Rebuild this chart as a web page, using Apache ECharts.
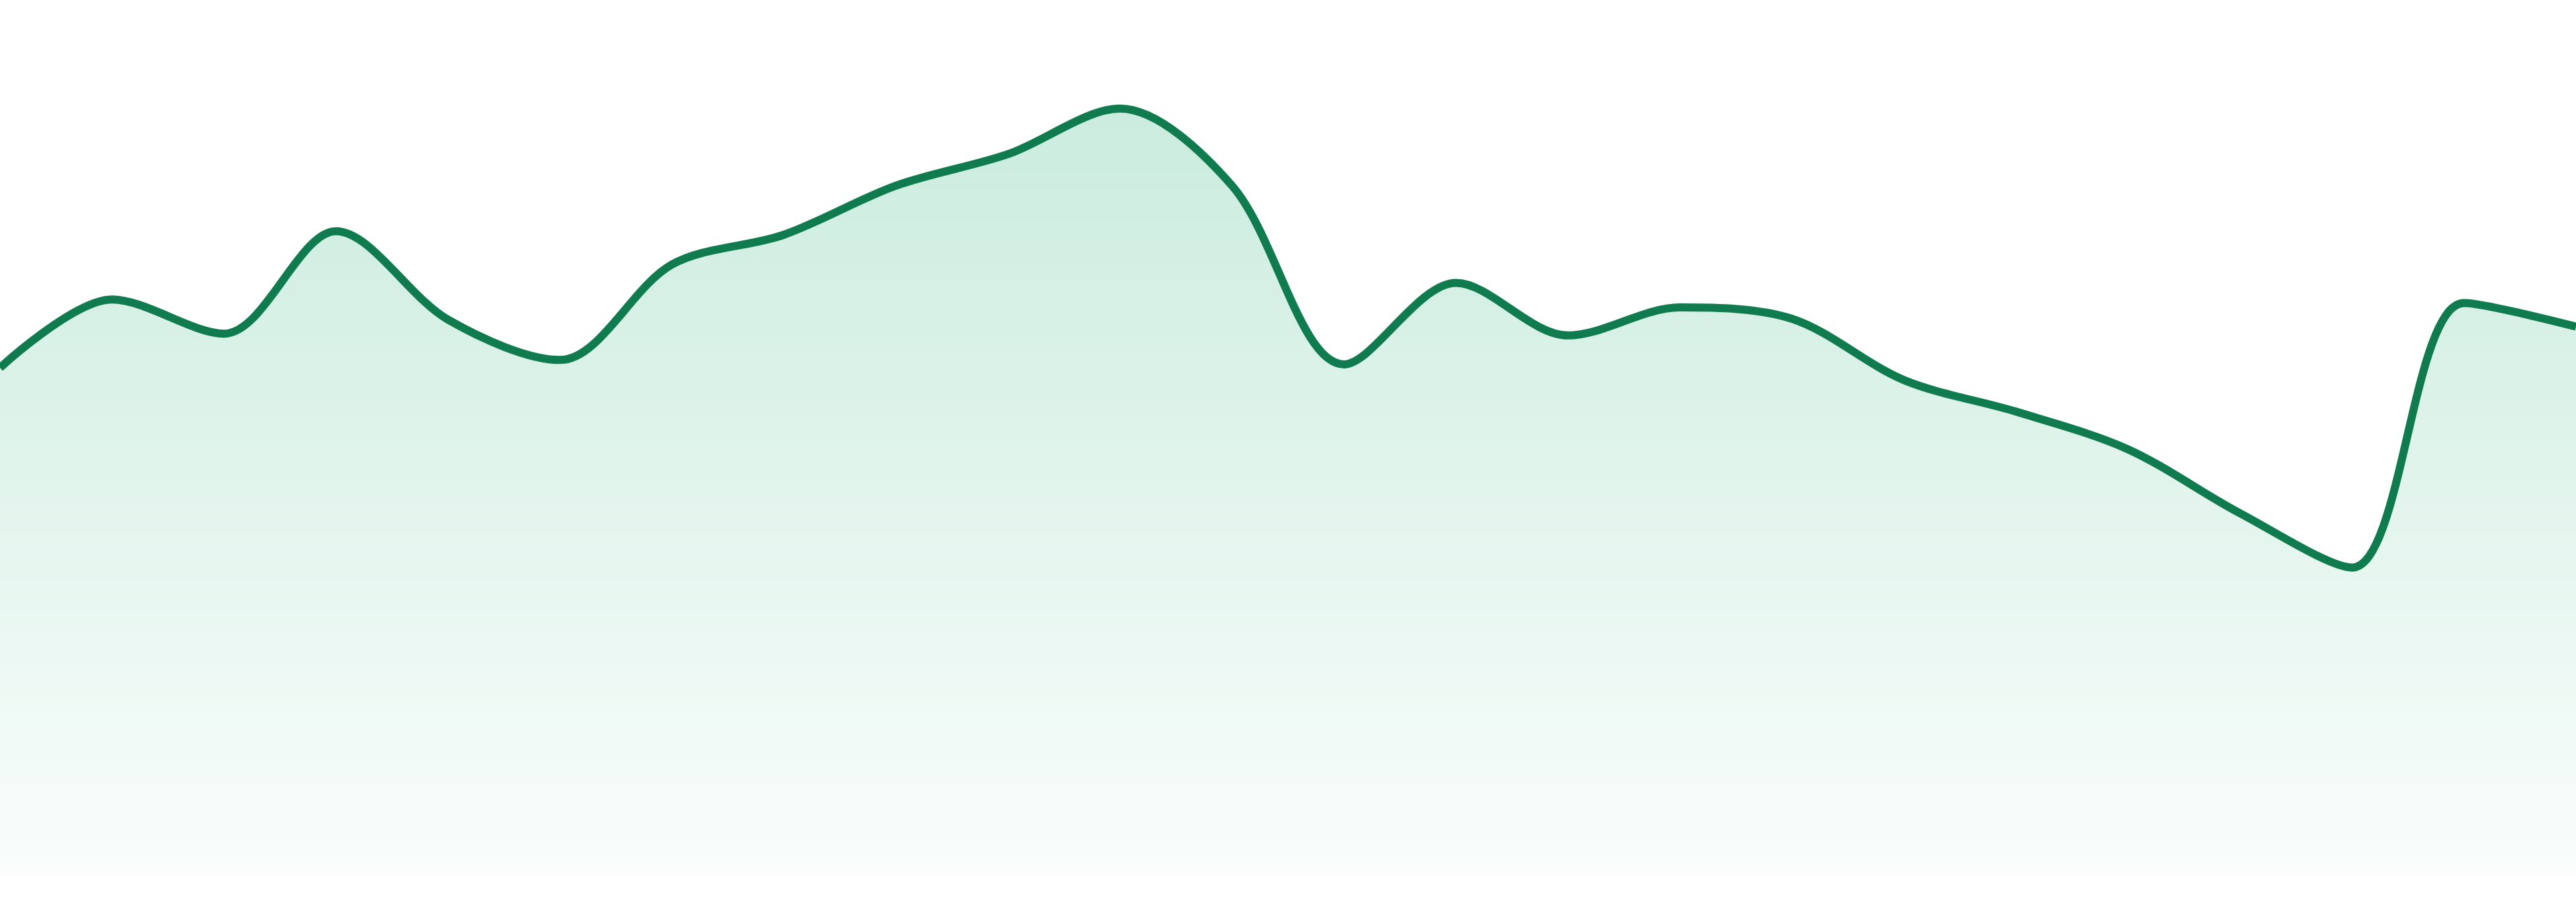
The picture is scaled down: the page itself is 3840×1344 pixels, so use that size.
<!DOCTYPE html>
<html>
<head>
<meta charset="utf-8">
<style>
  html, body { margin: 0; padding: 0; background: #ffffff; }
  #chart { width: 3840px; height: 1344px; }
</style>
<script src="https://cdn.jsdelivr.net/npm/echarts@6/dist/echarts.min.js"></script>
</head>
<body>
<div id="chart"></div>
<script>
const categories = ['1','2','3','4','5','6','7','8','9','10','11','12','13','14','15','16','17','18','19','20','21','22','23','24'];
const values = [58.0, 65.8, 61.9, 73.6, 63.5, 58.9, 69.8, 73.2, 78.8, 82.4, 87.6, 78.8,
                58.4, 67.7, 61.7, 64.9, 63.6, 56.6, 53.0, 48.7, 41.4, 35.2, 65.4, 62.7];

const chart = echarts.init(document.getElementById('chart'), null, { renderer: 'canvas' });
chart.setOption({
  animation: false,
  backgroundColor: '#ffffff',
  grid: { left: 0, right: 0, top: 0, bottom: 39 },
  xAxis: {
    type: 'category',
    data: categories,
    boundaryGap: false,
    show: false
  },
  yAxis: {
    type: 'value',
    min: 0,
    max: 100,
    show: false
  },
  series: [{
    type: 'line',
    data: values,
    smooth: 0.32,
    symbol: 'none',
    lineStyle: { color: '#117b50', width: 12 },
    areaStyle: {
      color: new echarts.graphic.LinearGradient(0, 0, 0, 1, [
        { offset: 0, color: 'rgba(46,179,125,0.36)' },
        { offset: 1, color: 'rgba(46,179,125,0.04)' }
      ])
    }
  }]
});
</script>
</body>
</html>
